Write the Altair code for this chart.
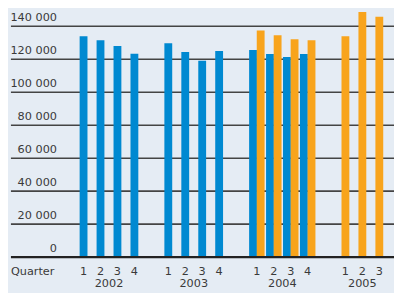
import altair as alt
import pandas as pd

# ---- data ----
years = ["2002", "2003", "2004", "2005"]
quarters = [1, 2, 3, 4]
blue_2002 = [133900, 131500, 128100, 123400]
blue_2003 = [129700, 124400, 119100, 125000]
blue_2004 = [125600, 123200, 121400, 123200]
orange_2004 = [137400, 134500, 132100, 131500]
orange_2005 = [133900, 148700, 145800]
y_ticks = [0, 20000, 40000, 60000, 80000, 100000, 120000, 140000]
y_tick_labels = ["0", "20 000", "40 000", "60 000", "80 000", "100 000", "120 000", "140 000"]

BLUE = "#0089D1"
ORANGE = "#F8A41C"
BG = "#E5ECF4"
TXT = "#3a3a3a"
FONT = "DejaVu Sans"

series = [
    ("blue", "2002", blue_2002),
    ("blue", "2003", blue_2003),
    ("blue", "2004", blue_2004),
    ("orange", "2004", orange_2004),
    ("orange", "2005", orange_2005),
]
ORANGE_SHIFT = 8 / 17.75  # orange bar sits one bar-width right of the slot
rows = []
for s, yr, vals in series:
    for q, v in zip(quarters, vals):
        slot = years.index(yr) * 5 + (q - 1)
        rows.append({"series": s, "year": yr, "quarter": q, "value": v,
                     "x": slot + (ORANGE_SHIFT if s == "orange" else 0.0)})
bars_df = pd.DataFrame(rows)

q_df = bars_df.groupby(["year", "quarter"], as_index=False)["x"].mean()
q_df["label"] = q_df["quarter"].astype(str)
y_df = q_df.groupby("year", as_index=False)["x"].mean()

grid_df = pd.DataFrame({"v": y_ticks, "label": y_tick_labels})

W, H = 394, 285
xscale = alt.Scale(domain=[-74 / 17.75, 320 / 17.75], nice=False, zero=False)
yscale = alt.Scale(domain=[-20025, 149325], nice=False, zero=False)

grid = alt.Chart(grid_df).transform_filter("datum.v > 0").mark_rule(
    color="#444444", strokeWidth=1.6
).encode(
    x=alt.value(3), x2=alt.value(W),
    y=alt.Y("v:Q", scale=yscale, axis=None),
)

zero = alt.Chart(grid_df).transform_filter("datum.v == 0").mark_rule(
    color="#222222", strokeWidth=2.2
).encode(
    x=alt.value(3), x2=alt.value(W),
    y=alt.Y("v:Q", scale=yscale, axis=None),
)

bars = alt.Chart(bars_df).mark_bar(width=8, binSpacing=0).encode(
    x=alt.X("x:Q", scale=xscale, axis=None),
    y=alt.Y("value:Q", scale=yscale, axis=None),
    color=alt.Color("series:N", scale=alt.Scale(domain=["blue", "orange"], range=[BLUE, ORANGE]), legend=None),
)

ylabels = alt.Chart(grid_df).mark_text(
    align="right", baseline="alphabetic", dy=-5.5, font=FONT, fontSize=11.5, color=TXT
).encode(
    x=alt.value(50),
    y=alt.Y("v:Q", scale=yscale, axis=None),
    text="label:N",
)

qlabels = alt.Chart(q_df).mark_text(
    align="center", baseline="alphabetic", font=FONT, fontSize=11.5, color=TXT
).encode(
    x=alt.X("x:Q", scale=xscale, axis=None),
    y=alt.value(269.3),
    text="label:N",
)

ylab = alt.Chart(y_df).mark_text(
    align="center", baseline="alphabetic", font=FONT, fontSize=11.5, color=TXT
).encode(
    x=alt.X("x:Q", scale=xscale, axis=None),
    y=alt.value(282),
    text="year:N",
)

quarter_title = alt.Chart(pd.DataFrame({"t": ["Quarter"]})).mark_text(
    align="left", baseline="alphabetic", font=FONT, fontSize=11.5, color=TXT
).encode(
    x=alt.value(3), y=alt.value(269.3), text="t:N",
)

chart = alt.layer(grid, bars, zero, ylabels, qlabels, ylab, quarter_title).properties(
    width=W, height=H,
    background=BG,
    padding=0,
    autosize=alt.AutoSizeParams(type="none"),
).configure_view(stroke=None)

chart.save("out.html", embed_options={"renderer": "svg", "actions": False})
